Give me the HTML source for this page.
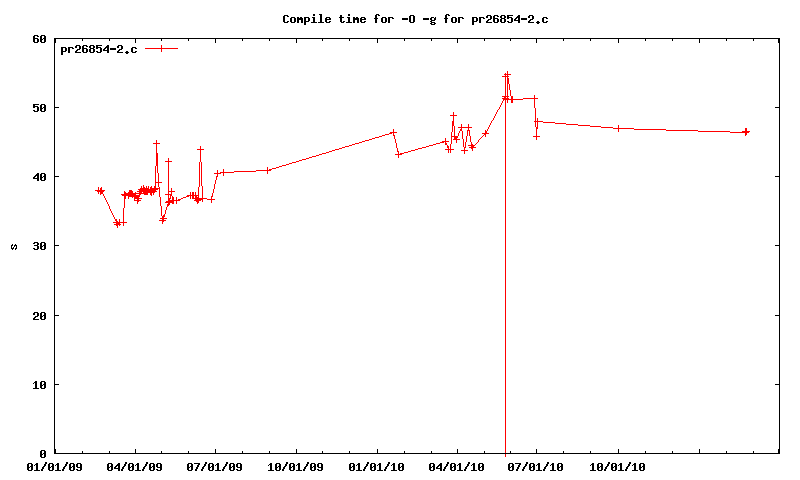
<!DOCTYPE html>
<html lang="en"><head><meta charset="utf-8"><title>Compile time for -O -g for pr26854-2.c</title>
<style>
html,body{margin:0;padding:0;background:#fff;overflow:hidden;font-family:"Liberation Mono",monospace;}
svg{display:block}
</style></head><body>
<svg width="800" height="480" viewBox="0 0 800 480" shape-rendering="crispEdges" role="img">
<title>Compile time for -O -g for pr26854-2.c</title>
<desc>gnuplot line chart. Title: Compile time for -O -g for pr26854-2.c. Legend: pr26854-2.c (red line with plus markers). Y axis label: s; ticks 0 10 20 30 40 50 60. X axis ticks: 01/01/09 04/01/09 07/01/09 10/01/09 01/01/10 04/01/10 07/01/10 10/01/10.</desc>
<rect width="800" height="480" fill="#fff"/>
<path fill="#f00" d="M95 190h10v1h-10zM97 191h7v1h-7zM98 187h1v3h-1zM98 192h1v2h-1zM100 194h1v1h-1zM100 188h2v2h-2zM100 192h3v2h-3zM101 187h1v1h-1zM103 194h1v2h-1zM104 196h1v2h-1zM105 198h1v2h-1zM106 200h1v2h-1zM107 202h1v2h-1zM108 204h1v2h-1zM109 206h1v3h-1zM110 209h1v2h-1zM111 211h1v2h-1zM112 213h1v2h-1zM113 215h1v2h-1zM113 222h14v1h-14zM114 217h1v2h-1zM114 224h7v1h-7zM115 219h2v2h-2zM116 221h2v1h-2zM116 225h2v1h-2zM116 223h4v1h-4zM117 226h1v2h-1zM119 219h1v3h-1zM119 225h1v1h-1zM121 194h15v1h-15zM122 195h18v1h-18zM123 208h1v14h-1zM123 223h1v3h-1zM124 191h1v1h-1zM124 199h1v9h-1zM124 192h2v1h-2zM124 196h2v3h-2zM124 193h24v1h-24zM128 197h1v2h-1zM128 192h5v1h-5zM128 196h12v1h-12zM129 190h3v1h-3zM129 191h4v1h-4zM132 197h1v1h-1zM134 199h1v1h-1zM134 197h5v1h-5zM134 200h7v1h-7zM134 198h8v1h-8zM135 192h1v1h-1zM137 202h1v2h-1zM137 199h2v1h-2zM137 201h2v1h-2zM137 191h20v1h-20zM138 189h20v1h-20zM139 194h2v1h-2zM139 192h3v1h-3zM139 190h17v1h-17zM140 188h9v1h-9zM141 186h1v2h-1zM143 185h1v2h-1zM143 187h2v1h-2zM143 192h12v1h-12zM144 194h4v1h-4zM145 48h33v1h-33zM146 186h1v2h-1zM148 186h1v2h-1zM150 187h2v1h-2zM150 193h2v2h-2zM150 188h10v1h-10zM151 186h1v1h-1zM151 195h1v1h-1zM153 193h1v2h-1zM153 143h7v1h-7zM154 186h2v2h-2zM155 166h1v16h-1zM155 183h1v3h-1zM155 182h7v1h-7zM156 140h1v3h-1zM156 144h1v9h-1zM156 153h2v13h-2zM157 166h1v7h-1zM158 173h1v9h-1zM158 183h1v4h-1zM159 187h1v1h-1zM159 189h1v8h-1zM159 220h7v1h-7zM160 197h1v9h-1zM160 218h7v1h-7zM161 45h1v3h-1zM161 49h1v3h-1zM161 206h1v10h-1zM162 222h1v2h-1zM162 217h2v1h-2zM162 219h2v1h-2zM162 221h2v1h-2zM162 216h3v1h-3zM163 215h2v1h-2zM164 214h1v1h-1zM165 210h1v4h-1zM165 161h7v1h-7zM165 194h7v1h-7zM165 202h9v1h-9zM166 207h1v3h-1zM166 201h8v1h-8zM167 206h1v1h-1zM167 205h2v1h-2zM167 204h3v1h-3zM168 158h1v3h-1zM168 162h1v29h-1zM168 192h1v2h-1zM168 195h1v3h-1zM168 199h2v1h-2zM168 203h2v1h-2zM168 198h3v1h-3zM168 191h7v1h-7zM168 200h12v1h-12zM170 196h1v2h-1zM170 195h2v1h-2zM171 188h1v3h-1zM171 192h1v2h-1zM172 196h1v1h-1zM172 197h2v3h-2zM172 203h2v1h-2zM176 197h1v3h-1zM176 201h1v3h-1zM178 199h3v1h-3zM181 198h2v1h-2zM183 197h3v1h-3zM186 196h3v1h-3zM187 195h12v1h-12zM190 192h1v3h-1zM190 196h1v3h-1zM192 192h2v3h-2zM192 196h2v2h-2zM192 198h15v1h-15zM194 200h7v1h-7zM195 192h1v3h-1zM195 196h2v1h-2zM195 197h4v1h-4zM195 199h8v1h-8zM196 201h3v1h-3zM197 203h1v1h-1zM197 202h2v1h-2zM197 149h7v1h-7zM198 187h1v8h-1zM198 196h1v1h-1zM199 162h1v25h-1zM200 146h1v3h-1zM200 150h1v12h-1zM201 162h1v24h-1zM202 186h1v12h-1zM202 200h1v2h-1zM207 199h8v1h-8zM211 197h1v2h-1zM211 200h1v3h-1zM211 196h2v1h-2zM212 193h1v3h-1zM213 189h1v4h-1zM214 184h1v5h-1zM214 173h7v1h-7zM215 180h1v4h-1zM216 177h1v3h-1zM216 176h2v1h-2zM217 170h1v3h-1zM217 174h1v2h-1zM220 172h14v1h-14zM223 169h1v3h-1zM223 173h1v3h-1zM234 171h22v1h-22zM256 170h15v1h-15zM267 167h1v3h-1zM267 171h1v3h-1zM269 169h3v1h-3zM272 168h4v1h-4zM276 167h3v1h-3zM279 166h3v1h-3zM282 165h4v1h-4zM286 164h3v1h-3zM289 163h3v1h-3zM292 162h4v1h-4zM296 161h3v1h-3zM299 160h3v1h-3zM302 159h4v1h-4zM306 158h3v1h-3zM309 157h3v1h-3zM312 156h4v1h-4zM316 155h3v1h-3zM319 154h3v1h-3zM322 153h4v1h-4zM326 152h3v1h-3zM329 151h3v1h-3zM332 150h3v1h-3zM335 149h4v1h-4zM339 148h3v1h-3zM342 147h3v1h-3zM345 146h4v1h-4zM349 145h3v1h-3zM352 144h3v1h-3zM355 143h4v1h-4zM359 142h3v1h-3zM362 141h3v1h-3zM365 140h4v1h-4zM369 139h3v1h-3zM372 138h3v1h-3zM375 137h4v1h-4zM379 136h3v1h-3zM382 135h3v1h-3zM385 134h4v1h-4zM389 133h3v1h-3zM390 132h7v1h-7zM393 129h1v3h-1zM393 133h1v2h-1zM393 135h2v1h-2zM394 136h1v3h-1zM395 139h1v4h-1zM395 154h7v1h-7zM396 143h1v5h-1zM397 148h1v3h-1zM397 151h2v1h-2zM398 152h1v2h-1zM398 155h1v3h-1zM400 153h4v1h-4zM404 152h4v1h-4zM408 151h3v1h-3zM411 150h4v1h-4zM415 149h3v1h-3zM418 148h4v1h-4zM422 147h4v1h-4zM426 146h3v1h-3zM429 145h4v1h-4zM433 144h3v1h-3zM436 143h4v1h-4zM440 142h4v1h-4zM442 141h7v1h-7zM445 138h1v3h-1zM445 142h1v1h-1zM445 143h2v2h-2zM445 149h9v1h-9zM447 145h1v1h-1zM447 146h2v2h-2zM448 148h1v1h-1zM448 150h1v3h-1zM450 144h1v5h-1zM450 150h1v3h-1zM450 115h7v1h-7zM451 132h1v4h-1zM451 137h1v7h-1zM451 136h7v1h-7zM452 126h1v6h-1zM452 121h2v5h-2zM453 112h1v3h-1zM453 116h1v5h-1zM453 139h7v1h-7zM454 126h1v10h-1zM454 138h3v1h-3zM454 137h4v1h-4zM456 140h1v3h-1zM458 133h1v3h-1zM458 127h14v1h-14zM459 131h1v2h-1zM460 129h2v2h-2zM461 124h1v3h-1zM461 128h1v1h-1zM461 150h7v1h-7zM462 131h1v8h-1zM463 139h1v8h-1zM464 148h1v2h-1zM464 151h1v3h-1zM464 147h2v1h-2zM465 142h1v5h-1zM466 136h1v6h-1zM467 131h1v5h-1zM467 130h3v1h-3zM468 124h1v3h-1zM468 128h1v2h-1zM468 145h7v1h-7zM469 131h1v5h-1zM469 147h7v1h-7zM470 136h1v6h-1zM471 142h1v2h-1zM471 144h2v1h-2zM471 148h2v1h-2zM471 146h3v1h-3zM472 149h1v2h-1zM475 144h1v1h-1zM476 143h1v1h-1zM477 142h1v1h-1zM478 140h1v2h-1zM479 139h1v1h-1zM480 138h1v1h-1zM481 137h1v1h-1zM482 136h1v1h-1zM482 133h7v1h-7zM483 135h1v1h-1zM484 134h2v1h-2zM485 130h1v1h-1zM485 135h1v2h-1zM485 131h2v2h-2zM487 129h1v2h-1zM488 127h1v2h-1zM489 125h1v2h-1zM490 123h1v2h-1zM491 121h1v2h-1zM492 120h1v1h-1zM493 118h1v2h-1zM494 116h1v2h-1zM495 114h1v2h-1zM496 112h1v2h-1zM497 110h1v2h-1zM498 109h1v1h-1zM499 107h1v2h-1zM500 105h1v2h-1zM501 103h1v2h-1zM502 101h1v2h-1zM502 76h7v1h-7zM502 96h7v1h-7zM502 98h7v1h-7zM502 453h7v1h-7zM503 100h1v1h-1zM503 99h20v1h-20zM504 97h2v1h-2zM504 74h7v1h-7zM505 73h1v1h-1zM505 75h1v1h-1zM505 77h1v19h-1zM505 100h1v353h-1zM505 454h1v3h-1zM507 71h1v3h-1zM507 75h1v1h-1zM507 77h1v1h-1zM507 84h1v12h-1zM507 97h1v1h-1zM507 100h1v3h-1zM507 78h2v6h-2zM509 84h1v6h-1zM510 90h1v6h-1zM511 96h2v3h-2zM511 100h2v3h-2zM523 98h15v1h-15zM533 136h7v1h-7zM534 95h1v3h-1zM534 99h1v9h-1zM534 121h9v1h-9zM535 108h1v13h-1zM535 122h1v5h-1zM536 129h1v7h-1zM536 137h1v3h-1zM536 127h2v2h-2zM537 118h1v3h-1zM537 122h1v5h-1zM543 122h12v1h-12zM555 123h11v1h-11zM566 124h12v1h-12zM578 125h12v1h-12zM590 126h11v1h-11zM601 127h12v1h-12zM613 128h21v1h-21zM618 125h1v3h-1zM618 129h1v3h-1zM634 129h32v1h-32zM666 130h32v1h-32zM698 131h32v1h-32zM730 132h19v1h-19zM742 131h8v1h-8zM745 135h1v1h-1zM745 128h2v3h-2zM745 133h2v2h-2z"/>
<path fill="#000" d="M11 246h1v2h-1zM11 245h2v1h-2zM11 248h3v1h-3zM12 244h1v1h-1zM12 249h1v1h-1zM13 247h1v1h-1zM14 246h1v1h-1zM14 245h3v1h-3zM15 244h1v1h-1zM15 249h1v1h-1zM15 248h2v1h-2zM16 246h1v2h-1zM27 464h2v3h-2zM27 468h2v2h-2zM27 467h3v1h-3zM28 463h4v1h-4zM28 470h4v1h-4zM30 466h3v1h-3zM31 464h2v2h-2zM31 467h2v3h-2zM33 383h1v1h-1zM33 36h2v2h-2zM33 39h2v3h-2zM33 105h2v1h-2zM33 107h2v1h-2zM33 110h2v1h-2zM33 177h2v1h-2zM33 243h2v1h-2zM33 248h2v1h-2zM33 313h2v2h-2zM33 318h2v1h-2zM33 38h5v1h-5zM33 106h5v1h-5zM33 104h6v1h-6zM33 178h6v1h-6zM33 319h6v1h-6zM33 388h6v1h-6zM34 465h1v1h-1zM34 176h2v1h-2zM34 317h2v1h-2zM34 382h3v1h-3zM34 35h4v1h-4zM34 42h4v1h-4zM34 111h4v1h-4zM34 242h4v1h-4zM34 245h4v1h-4zM34 249h4v1h-4zM34 312h4v1h-4zM34 470h6v1h-6zM35 381h2v1h-2zM35 383h2v5h-2zM35 316h3v1h-3zM35 464h3v1h-3zM35 175h4v1h-4zM36 463h2v1h-2zM36 465h2v5h-2zM36 174h3v1h-3zM37 36h2v1h-2zM37 39h2v3h-2zM37 107h2v4h-2zM37 173h2v1h-2zM37 176h2v2h-2zM37 179h2v2h-2zM37 243h2v2h-2zM37 246h2v3h-2zM37 313h2v3h-2zM40 36h2v3h-2zM40 40h2v2h-2zM40 105h2v3h-2zM40 109h2v2h-2zM40 174h2v3h-2zM40 178h2v2h-2zM40 243h2v3h-2zM40 247h2v2h-2zM40 313h2v3h-2zM40 317h2v2h-2zM40 382h2v3h-2zM40 386h2v2h-2zM40 451h2v3h-2zM40 455h2v2h-2zM40 39h3v1h-3zM40 108h3v1h-3zM40 177h3v1h-3zM40 246h3v1h-3zM40 316h3v1h-3zM40 385h3v1h-3zM40 454h3v1h-3zM41 469h2v2h-2zM41 35h4v1h-4zM41 42h4v1h-4zM41 104h4v1h-4zM41 111h4v1h-4zM41 173h4v1h-4zM41 180h4v1h-4zM41 242h4v1h-4zM41 249h4v1h-4zM41 312h4v1h-4zM41 319h4v1h-4zM41 381h4v1h-4zM41 388h4v1h-4zM41 450h4v1h-4zM41 457h4v1h-4zM42 467h2v2h-2zM43 466h2v1h-2zM43 38h3v1h-3zM43 107h3v1h-3zM43 176h3v1h-3zM43 245h3v1h-3zM43 315h3v1h-3zM43 384h3v1h-3zM43 453h3v1h-3zM44 36h2v2h-2zM44 39h2v3h-2zM44 105h2v2h-2zM44 108h2v3h-2zM44 174h2v2h-2zM44 177h2v3h-2zM44 243h2v2h-2zM44 246h2v3h-2zM44 313h2v2h-2zM44 316h2v3h-2zM44 382h2v2h-2zM44 385h2v3h-2zM44 451h2v2h-2zM44 454h2v3h-2zM44 464h2v2h-2zM45 462h2v2h-2zM48 464h2v3h-2zM48 468h2v2h-2zM48 467h3v1h-3zM49 463h4v1h-4zM49 470h4v1h-4zM51 466h3v1h-3zM52 464h2v2h-2zM52 467h2v3h-2zM54 43h1v64h-1zM54 108h1v68h-1zM54 177h1v68h-1zM54 246h1v69h-1zM54 316h1v68h-1zM54 385h1v64h-1zM54 39h2v4h-2zM54 449h2v4h-2zM54 107h5v1h-5zM54 176h5v1h-5zM54 245h5v1h-5zM54 315h5v1h-5zM54 384h5v1h-5zM54 38h726v1h-726zM54 453h726v1h-726zM55 465h1v1h-1zM55 470h6v1h-6zM56 464h3v1h-3zM57 463h2v1h-2zM57 465h2v5h-2zM61 48h2v3h-2zM61 52h2v3h-2zM61 47h5v1h-5zM61 51h5v1h-5zM62 469h2v2h-2zM63 467h2v2h-2zM64 466h2v1h-2zM65 48h2v3h-2zM65 464h2v2h-2zM66 462h2v2h-2zM68 48h2v5h-2zM68 47h5v1h-5zM69 464h2v3h-2zM69 468h2v2h-2zM69 467h3v1h-3zM70 463h4v1h-4zM70 470h4v1h-4zM72 48h2v1h-2zM72 466h3v1h-3zM73 464h2v2h-2zM73 467h2v3h-2zM75 46h2v2h-2zM75 51h2v1h-2zM75 52h6v1h-6zM76 50h2v1h-2zM76 464h2v3h-2zM76 469h2v1h-2zM76 45h4v1h-4zM77 49h3v1h-3zM77 463h4v1h-4zM77 470h4v1h-4zM77 467h5v1h-5zM79 46h2v3h-2zM80 464h2v3h-2zM80 468h2v2h-2zM82 39h1v2h-1zM82 451h1v2h-1zM82 46h2v2h-2zM82 49h2v3h-2zM82 48h5v1h-5zM83 45h4v1h-4zM83 52h4v1h-4zM86 46h2v1h-2zM86 49h2v3h-2zM89 46h2v2h-2zM89 49h2v3h-2zM90 45h4v1h-4zM90 48h4v1h-4zM90 52h4v1h-4zM93 46h2v2h-2zM93 49h2v3h-2zM96 46h2v1h-2zM96 48h2v1h-2zM96 51h2v1h-2zM96 47h5v1h-5zM96 45h6v1h-6zM97 52h4v1h-4zM100 48h2v4h-2zM103 49h2v1h-2zM103 50h6v1h-6zM104 48h2v1h-2zM105 47h4v1h-4zM106 46h3v1h-3zM107 45h2v1h-2zM107 48h2v2h-2zM107 51h2v2h-2zM107 464h2v3h-2zM107 468h2v2h-2zM107 467h3v1h-3zM108 463h4v1h-4zM108 470h4v1h-4zM109 39h1v2h-1zM109 451h1v2h-1zM110 466h3v1h-3zM110 48h6v2h-6zM111 464h2v2h-2zM111 467h2v3h-2zM114 467h2v1h-2zM114 468h6v1h-6zM115 466h2v1h-2zM116 465h4v1h-4zM117 46h2v2h-2zM117 51h2v1h-2zM117 464h3v1h-3zM117 52h6v1h-6zM118 50h2v1h-2zM118 463h2v1h-2zM118 466h2v2h-2zM118 469h2v2h-2zM118 45h4v1h-4zM119 49h3v1h-3zM121 46h2v3h-2zM121 469h2v2h-2zM122 467h2v2h-2zM123 466h2v1h-2zM124 464h2v2h-2zM125 462h2v2h-2zM125 52h4v1h-4zM126 51h2v1h-2zM126 53h2v1h-2zM128 464h2v3h-2zM128 468h2v2h-2zM128 467h3v1h-3zM129 463h4v1h-4zM129 470h4v1h-4zM131 48h2v4h-2zM131 466h3v1h-3zM132 464h2v2h-2zM132 467h2v3h-2zM132 47h4v1h-4zM132 52h4v1h-4zM135 39h1v4h-1zM135 449h1v4h-1zM135 465h1v1h-1zM135 48h2v1h-2zM135 51h2v1h-2zM135 470h6v1h-6zM136 464h3v1h-3zM137 463h2v1h-2zM137 465h2v5h-2zM142 469h2v2h-2zM143 467h2v2h-2zM144 466h2v1h-2zM145 464h2v2h-2zM146 462h2v2h-2zM149 464h2v3h-2zM149 468h2v2h-2zM149 467h3v1h-3zM150 463h4v1h-4zM150 470h4v1h-4zM152 466h3v1h-3zM153 464h2v2h-2zM153 467h2v3h-2zM156 464h2v3h-2zM156 469h2v1h-2zM157 463h4v1h-4zM157 470h4v1h-4zM157 467h5v1h-5zM160 464h2v3h-2zM160 468h2v2h-2zM161 39h1v2h-1zM161 451h1v2h-1zM187 464h2v3h-2zM187 468h2v2h-2zM187 467h3v1h-3zM188 39h1v2h-1zM188 451h1v2h-1zM188 463h4v1h-4zM188 470h4v1h-4zM190 466h3v1h-3zM191 464h2v2h-2zM191 467h2v3h-2zM194 463h6v1h-6zM195 469h2v2h-2zM196 467h2v2h-2zM197 465h2v2h-2zM198 464h2v1h-2zM201 469h2v2h-2zM202 467h2v2h-2zM203 466h2v1h-2zM204 464h2v2h-2zM205 462h2v2h-2zM208 464h2v3h-2zM208 468h2v2h-2zM208 467h3v1h-3zM209 463h4v1h-4zM209 470h4v1h-4zM211 466h3v1h-3zM212 464h2v2h-2zM212 467h2v3h-2zM215 39h1v4h-1zM215 449h1v4h-1zM215 465h1v1h-1zM215 470h6v1h-6zM216 464h3v1h-3zM217 463h2v1h-2zM217 465h2v5h-2zM222 469h2v2h-2zM223 467h2v2h-2zM224 466h2v1h-2zM225 464h2v2h-2zM226 462h2v2h-2zM229 464h2v3h-2zM229 468h2v2h-2zM229 467h3v1h-3zM230 463h4v1h-4zM230 470h4v1h-4zM232 466h3v1h-3zM233 464h2v2h-2zM233 467h2v3h-2zM236 464h2v3h-2zM236 469h2v1h-2zM237 463h4v1h-4zM237 470h4v1h-4zM237 467h5v1h-5zM240 464h2v3h-2zM240 468h2v2h-2zM242 39h1v2h-1zM242 451h1v2h-1zM268 465h1v1h-1zM268 470h6v1h-6zM269 39h1v2h-1zM269 451h1v2h-1zM269 464h3v1h-3zM270 463h2v1h-2zM270 465h2v5h-2zM275 464h2v3h-2zM275 468h2v2h-2zM275 467h3v1h-3zM276 463h4v1h-4zM276 470h4v1h-4zM278 466h3v1h-3zM279 464h2v2h-2zM279 467h2v3h-2zM282 469h2v2h-2zM283 16h2v6h-2zM283 467h2v2h-2zM284 466h2v1h-2zM284 15h4v1h-4zM284 22h4v1h-4zM285 464h2v2h-2zM286 462h2v2h-2zM287 16h2v1h-2zM287 21h2v1h-2zM289 464h2v3h-2zM289 468h2v2h-2zM289 467h3v1h-3zM290 18h2v4h-2zM290 463h4v1h-4zM290 470h4v1h-4zM291 17h4v1h-4zM291 22h4v1h-4zM292 466h3v1h-3zM293 464h2v2h-2zM293 467h2v3h-2zM294 18h2v4h-2zM296 39h1v4h-1zM296 449h1v4h-1zM296 465h1v1h-1zM296 470h6v1h-6zM297 17h2v1h-2zM297 20h2v3h-2zM297 464h3v1h-3zM297 18h6v2h-6zM298 463h2v1h-2zM298 465h2v5h-2zM300 17h2v1h-2zM301 20h2v3h-2zM303 469h2v2h-2zM304 18h2v3h-2zM304 22h2v3h-2zM304 467h2v2h-2zM304 17h5v1h-5zM304 21h5v1h-5zM305 466h2v1h-2zM306 464h2v2h-2zM307 462h2v2h-2zM308 18h2v3h-2zM310 464h2v3h-2zM310 468h2v2h-2zM310 467h3v1h-3zM311 463h4v1h-4zM311 470h4v1h-4zM311 22h6v1h-6zM312 17h3v1h-3zM313 14h2v2h-2zM313 18h2v4h-2zM313 466h3v1h-3zM314 464h2v2h-2zM314 467h2v3h-2zM317 464h2v3h-2zM317 469h2v1h-2zM318 463h4v1h-4zM318 470h4v1h-4zM318 467h5v1h-5zM318 22h6v1h-6zM319 14h3v1h-3zM320 15h2v7h-2zM321 464h2v3h-2zM321 468h2v2h-2zM322 39h1v2h-1zM322 451h1v2h-1zM325 18h2v1h-2zM325 20h2v2h-2zM325 19h6v1h-6zM326 17h4v1h-4zM326 22h4v1h-4zM329 18h2v1h-2zM329 21h2v1h-2zM339 17h5v1h-5zM340 15h2v2h-2zM340 18h2v4h-2zM341 22h3v1h-3zM343 21h2v1h-2zM346 22h6v1h-6zM347 17h3v1h-3zM348 14h2v2h-2zM348 18h2v4h-2zM349 39h1v2h-1zM349 451h1v2h-1zM349 464h2v3h-2zM349 468h2v2h-2zM349 467h3v1h-3zM350 463h4v1h-4zM350 470h4v1h-4zM352 466h3v1h-3zM353 17h2v1h-2zM353 20h2v3h-2zM353 464h2v2h-2zM353 467h2v3h-2zM353 18h6v2h-6zM356 465h1v1h-1zM356 17h2v1h-2zM356 470h6v1h-6zM357 20h2v3h-2zM357 464h3v1h-3zM358 463h2v1h-2zM358 465h2v5h-2zM360 18h2v1h-2zM360 20h2v2h-2zM360 19h6v1h-6zM361 17h4v1h-4zM361 22h4v1h-4zM363 469h2v2h-2zM364 18h2v1h-2zM364 21h2v1h-2zM364 467h2v2h-2zM365 466h2v1h-2zM366 464h2v2h-2zM367 462h2v2h-2zM370 464h2v3h-2zM370 468h2v2h-2zM370 467h3v1h-3zM371 463h4v1h-4zM371 470h4v1h-4zM373 466h3v1h-3zM374 464h2v2h-2zM374 467h2v3h-2zM374 18h4v1h-4zM375 15h2v3h-2zM375 19h2v4h-2zM376 14h3v1h-3zM377 39h1v4h-1zM377 449h1v4h-1zM377 465h1v1h-1zM377 470h6v1h-6zM378 15h2v1h-2zM378 464h3v1h-3zM379 463h2v1h-2zM379 465h2v5h-2zM381 18h2v4h-2zM382 17h4v1h-4zM382 22h4v1h-4zM384 469h2v2h-2zM385 18h2v4h-2zM385 467h2v2h-2zM386 466h2v1h-2zM387 464h2v2h-2zM388 18h2v5h-2zM388 462h2v2h-2zM388 17h5v1h-5zM391 465h1v1h-1zM391 470h6v1h-6zM392 18h2v1h-2zM392 464h3v1h-3zM393 463h2v1h-2zM393 465h2v5h-2zM398 464h2v3h-2zM398 468h2v2h-2zM398 467h3v1h-3zM399 463h4v1h-4zM399 470h4v1h-4zM401 466h3v1h-3zM402 464h2v2h-2zM402 467h2v3h-2zM402 18h6v2h-6zM404 39h1v2h-1zM404 451h1v2h-1zM409 16h2v6h-2zM410 15h4v1h-4zM410 22h4v1h-4zM413 16h2v6h-2zM423 18h6v2h-6zM429 464h2v3h-2zM429 468h2v2h-2zM429 467h3v1h-3zM430 18h2v2h-2zM430 21h2v1h-2zM430 23h2v1h-2zM430 463h4v1h-4zM430 470h4v1h-4zM431 39h1v2h-1zM431 451h1v2h-1zM431 17h3v1h-3zM431 20h4v1h-4zM431 22h4v1h-4zM431 24h4v1h-4zM432 466h3v1h-3zM433 464h2v2h-2zM433 467h2v3h-2zM434 18h2v2h-2zM434 23h2v1h-2zM435 17h1v1h-1zM436 467h2v1h-2zM436 468h6v1h-6zM437 466h2v1h-2zM438 465h4v1h-4zM439 464h3v1h-3zM440 463h2v1h-2zM440 466h2v2h-2zM440 469h2v2h-2zM443 469h2v2h-2zM444 467h2v2h-2zM444 18h4v1h-4zM445 15h2v3h-2zM445 19h2v4h-2zM445 466h2v1h-2zM446 464h2v2h-2zM446 14h3v1h-3zM447 462h2v2h-2zM448 15h2v1h-2zM450 464h2v3h-2zM450 468h2v2h-2zM450 467h3v1h-3zM451 18h2v4h-2zM451 463h4v1h-4zM451 470h4v1h-4zM452 17h4v1h-4zM452 22h4v1h-4zM453 466h3v1h-3zM454 464h2v2h-2zM454 467h2v3h-2zM455 18h2v4h-2zM457 39h1v4h-1zM457 449h1v4h-1zM457 465h1v1h-1zM457 470h6v1h-6zM458 18h2v5h-2zM458 464h3v1h-3zM458 17h5v1h-5zM459 463h2v1h-2zM459 465h2v5h-2zM462 18h2v1h-2zM464 469h2v2h-2zM465 467h2v2h-2zM466 466h2v1h-2zM467 464h2v2h-2zM468 462h2v2h-2zM471 465h1v1h-1zM471 470h6v1h-6zM472 18h2v3h-2zM472 22h2v3h-2zM472 464h3v1h-3zM472 17h5v1h-5zM472 21h5v1h-5zM473 463h2v1h-2zM473 465h2v5h-2zM476 18h2v3h-2zM478 464h2v3h-2zM478 468h2v2h-2zM478 467h3v1h-3zM479 18h2v5h-2zM479 463h4v1h-4zM479 470h4v1h-4zM479 17h5v1h-5zM481 466h3v1h-3zM482 464h2v2h-2zM482 467h2v3h-2zM483 18h2v1h-2zM484 39h1v2h-1zM484 451h1v2h-1zM486 16h2v2h-2zM486 21h2v1h-2zM486 22h6v1h-6zM487 20h2v1h-2zM487 15h4v1h-4zM488 19h3v1h-3zM490 16h2v3h-2zM493 16h2v2h-2zM493 19h2v3h-2zM493 18h5v1h-5zM494 15h4v1h-4zM494 22h4v1h-4zM497 16h2v1h-2zM497 19h2v3h-2zM500 16h2v2h-2zM500 19h2v3h-2zM501 15h4v1h-4zM501 18h4v1h-4zM501 22h4v1h-4zM504 16h2v2h-2zM504 19h2v3h-2zM507 16h2v1h-2zM507 18h2v1h-2zM507 21h2v1h-2zM507 17h5v1h-5zM507 15h6v1h-6zM508 464h2v3h-2zM508 468h2v2h-2zM508 467h3v1h-3zM508 22h4v1h-4zM509 463h4v1h-4zM509 470h4v1h-4zM510 39h1v2h-1zM510 451h1v2h-1zM511 18h2v4h-2zM511 466h3v1h-3zM512 464h2v2h-2zM512 467h2v3h-2zM514 19h2v1h-2zM514 20h6v1h-6zM515 18h2v1h-2zM515 463h6v1h-6zM516 469h2v2h-2zM516 17h4v1h-4zM517 467h2v2h-2zM517 16h3v1h-3zM518 15h2v1h-2zM518 18h2v2h-2zM518 21h2v2h-2zM518 465h2v2h-2zM519 464h2v1h-2zM521 18h6v2h-6zM522 469h2v2h-2zM523 467h2v2h-2zM524 466h2v1h-2zM525 464h2v2h-2zM526 462h2v2h-2zM528 16h2v2h-2zM528 21h2v1h-2zM528 22h6v1h-6zM529 20h2v1h-2zM529 464h2v3h-2zM529 468h2v2h-2zM529 467h3v1h-3zM529 15h4v1h-4zM530 19h3v1h-3zM530 463h4v1h-4zM530 470h4v1h-4zM532 16h2v3h-2zM532 466h3v1h-3zM533 464h2v2h-2zM533 467h2v3h-2zM536 39h1v4h-1zM536 449h1v4h-1zM536 465h1v1h-1zM536 22h4v1h-4zM536 470h6v1h-6zM537 21h2v1h-2zM537 23h2v1h-2zM537 464h3v1h-3zM538 463h2v1h-2zM538 465h2v5h-2zM542 18h2v4h-2zM543 469h2v2h-2zM543 17h4v1h-4zM543 22h4v1h-4zM544 467h2v2h-2zM545 466h2v1h-2zM546 18h2v1h-2zM546 21h2v1h-2zM546 464h2v2h-2zM547 462h2v2h-2zM550 465h1v1h-1zM550 470h6v1h-6zM551 464h3v1h-3zM552 463h2v1h-2zM552 465h2v5h-2zM557 464h2v3h-2zM557 468h2v2h-2zM557 467h3v1h-3zM558 463h4v1h-4zM558 470h4v1h-4zM560 466h3v1h-3zM561 464h2v2h-2zM561 467h2v3h-2zM563 39h1v2h-1zM563 451h1v2h-1zM590 39h1v2h-1zM590 451h1v2h-1zM590 465h1v1h-1zM590 470h6v1h-6zM591 464h3v1h-3zM592 463h2v1h-2zM592 465h2v5h-2zM597 464h2v3h-2zM597 468h2v2h-2zM597 467h3v1h-3zM598 463h4v1h-4zM598 470h4v1h-4zM600 466h3v1h-3zM601 464h2v2h-2zM601 467h2v3h-2zM604 469h2v2h-2zM605 467h2v2h-2zM606 466h2v1h-2zM607 464h2v2h-2zM608 462h2v2h-2zM611 464h2v3h-2zM611 468h2v2h-2zM611 467h3v1h-3zM612 463h4v1h-4zM612 470h4v1h-4zM614 466h3v1h-3zM615 464h2v2h-2zM615 467h2v3h-2zM618 39h1v4h-1zM618 449h1v4h-1zM618 465h1v1h-1zM618 470h6v1h-6zM619 464h3v1h-3zM620 463h2v1h-2zM620 465h2v5h-2zM625 469h2v2h-2zM626 467h2v2h-2zM627 466h2v1h-2zM628 464h2v2h-2zM629 462h2v2h-2zM632 465h1v1h-1zM632 470h6v1h-6zM633 464h3v1h-3zM634 463h2v1h-2zM634 465h2v5h-2zM639 464h2v3h-2zM639 468h2v2h-2zM639 467h3v1h-3zM640 463h4v1h-4zM640 470h4v1h-4zM642 466h3v1h-3zM643 464h2v2h-2zM643 467h2v3h-2zM645 39h1v2h-1zM645 451h1v2h-1zM672 39h1v2h-1zM672 451h1v2h-1zM699 39h1v4h-1zM699 449h1v4h-1zM726 39h1v2h-1zM726 451h1v2h-1zM753 39h1v2h-1zM753 451h1v2h-1zM775 107h5v1h-5zM775 176h5v1h-5zM775 245h5v1h-5zM775 315h5v1h-5zM775 384h5v1h-5zM778 39h2v4h-2zM778 449h2v4h-2zM779 43h1v64h-1zM779 108h1v68h-1zM779 177h1v68h-1zM779 246h1v69h-1zM779 316h1v68h-1zM779 385h1v64h-1z"/>
</svg>
</body></html>
